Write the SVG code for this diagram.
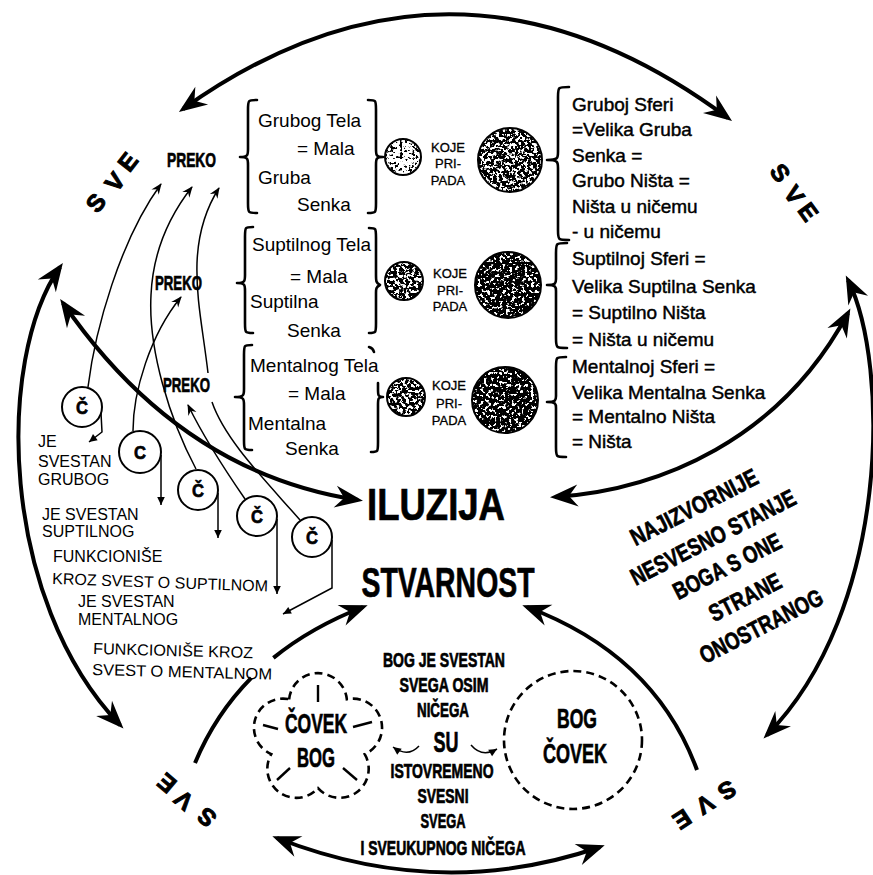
<svg xmlns="http://www.w3.org/2000/svg" width="873" height="875" viewBox="0 0 873 875">
<defs>
<style>
.thk{fill:none;stroke:#000;stroke-width:4}
.thn{fill:none;stroke:#000;stroke-width:1.5}
.ring{fill:#fff;stroke:#000;stroke-width:2}
.ringo{fill:none;stroke:#000;stroke-width:2}
.brace{fill:none;stroke:#000;stroke-width:2.6;stroke-linecap:round;stroke-linejoin:round}
.dash{fill:none;stroke:#000;stroke-width:2.6;stroke-dasharray:8 5}
.tick{stroke:#000;stroke-width:2.4}
text{font-family:"Liberation Sans",Arial,sans-serif;fill:#000}
.r{font-size:19px}
.rb{font-size:19px;stroke:#000;stroke-width:0.45}
.s{font-size:16px}
.k{font-size:13px;text-anchor:middle;stroke:#000;stroke-width:0.3}
.h{font-weight:bold;stroke:#000;stroke-width:0.7}
.m{text-anchor:middle}
.sve{font-size:24px;font-weight:bold;text-anchor:middle;stroke:#000;stroke-width:1}
</style>
<marker id="big" markerUnits="userSpaceOnUse" orient="auto-start-reverse" refX="-5" refY="0" markerWidth="40" markerHeight="40" overflow="visible"><path d="M0,0 L-28,-11 L-19,0 L-28,11 Z" fill="#000"/></marker>
<marker id="sm" markerUnits="userSpaceOnUse" orient="auto" refX="-1" refY="0" markerWidth="14" markerHeight="14" overflow="visible"><path d="M0,0 L-11,-4.5 L-7.5,0 L-11,4.5 Z" fill="#000"/></marker>
<marker id="dn" markerUnits="userSpaceOnUse" orient="auto" refX="0" refY="0" markerWidth="10" markerHeight="10" overflow="visible"><path d="M0,0 L-8,-3.8 L-8,3.8 Z" fill="#000"/></marker>
<filter id="sp1" x="0" y="0" width="1" height="1"><feTurbulence type="fractalNoise" baseFrequency="0.32" numOctaves="3" seed="3"/><feColorMatrix type="matrix" values="0 0 0 0 0 0 0 0 0 0 0 0 0 0 0 16 0 0 0 -8.8"/><feComposite in2="SourceAlpha" operator="in"/></filter>
<filter id="sp2" x="0" y="0" width="1" height="1"><feTurbulence type="fractalNoise" baseFrequency="0.32" numOctaves="3" seed="7"/><feColorMatrix type="matrix" values="0 0 0 0 0 0 0 0 0 0 0 0 0 0 0 16 0 0 0 -7.0"/><feComposite in2="SourceAlpha" operator="in"/></filter>
<filter id="sp3" x="0" y="0" width="1" height="1"><feTurbulence type="fractalNoise" baseFrequency="0.32" numOctaves="3" seed="11"/><feColorMatrix type="matrix" values="0 0 0 0 0 0 0 0 0 0 0 0 0 0 0 16 0 0 0 -6.0"/><feComposite in2="SourceAlpha" operator="in"/></filter>
</defs>
<rect width="873" height="875" fill="#fff"/>

<g id="connectors">
  <path class="thk" d="M183,109 Q455,-85 728,118" marker-start="url(#big)" marker-end="url(#big)"/>
  <path class="thk" d="M60,267 C-5,360 0,600 120,725" marker-start="url(#big)" marker-end="url(#big)"/>
  <path class="thk" d="M848,280 C890,365 890,610 767,735" marker-start="url(#big)" marker-end="url(#big)"/>
  <path class="thk" d="M63,303 Q180,473 358,500" marker-start="url(#big)" marker-end="url(#big)"/>
  <path class="thk" d="M555,497 C660,490 780,440 848,313" marker-start="url(#big)" marker-end="url(#big)"/>
  <path class="thk" d="M195,763 Q215.25,714.4 251.3,677.9"/>
  <path class="thk" d="M273.4,657.9 Q311.3,627.2 363,607" marker-end="url(#big)"/>
  <path class="thk" d="M697,770 Q655,655 527,607" marker-end="url(#big)"/>
  <path class="thk" d="M277,838 Q440,902 600,847" marker-start="url(#big)" marker-end="url(#big)"/>
  <path class="thn" d="M88,387 C95,330 120,240 161,184" marker-end="url(#sm)"/>
  <path class="thn" d="M133,431 C133,392 150,335 181,297" marker-end="url(#sm)"/>
  <path class="thn" d="M196,469 C170,420 148,350 151,295 C153,250 170,215 192,187" marker-end="url(#sm)"/>
  <path class="thn" d="M245,499 C225,470 205,440 188,405" marker-end="url(#sm)"/>
  <path class="thn" d="M300,520 C265,480 225,440 212,402"/>
  <path class="thn" d="M208,373 C203,330 196,300 197,263 C198,235 205,210 219,188" marker-end="url(#sm)"/>
  <path class="thn" d="M101,413 L102,432 L89,442" marker-end="url(#dn)"/>
  <path class="thn" d="M161,455 L161,505" marker-end="url(#dn)"/>
  <path class="thn" d="M218,493 L218,538" marker-end="url(#dn)"/>
  <path class="thn" d="M277,519 L277,594" marker-end="url(#dn)"/>
  <path class="thn" d="M332,540 L332,588 L283,614" marker-end="url(#dn)"/>
  <path class="thn" d="M419,746 Q408,758 393,747" marker-end="url(#dn)"/>
  <path class="thn" d="M471,745 Q482,758 497,749" marker-end="url(#dn)"/>
</g>

<g id="sve-labels">
  <text class="sve" transform="translate(96,203) rotate(-52)" y="8">S</text>
  <text class="sve" transform="translate(115,182) rotate(-52)" y="8">V</text>
  <text class="sve" transform="translate(128,162) rotate(-52)" y="8">E</text>
  <text class="sve" transform="translate(780,173) rotate(54)" y="8">S</text>
  <text class="sve" transform="translate(794,195) rotate(54)" y="8">V</text>
  <text class="sve" transform="translate(808,212) rotate(54)" y="8">E</text>
  <text class="sve" transform="translate(207,817) rotate(220)" y="8">S</text>
  <text class="sve" transform="translate(184,800) rotate(220)" y="8">V</text>
  <text class="sve" transform="translate(167,783) rotate(220)" y="8">E</text>
  <text class="sve" transform="translate(727,790) rotate(147)" y="8">S</text>
  <text class="sve" transform="translate(705,804) rotate(147)" y="8">V</text>
  <text class="sve" transform="translate(682,819) rotate(147)" y="8">E</text>
</g>

<g id="preko1"><text class="h m" x="191.5" y="167" font-size="21" textLength="49" lengthAdjust="spacingAndGlyphs">PREKO</text></g>
<g id="preko2"><text class="h m" x="178.5" y="290" font-size="21" textLength="47" lengthAdjust="spacingAndGlyphs">PREKO</text></g>
<g id="preko3"><text class="h m" x="186.5" y="392" font-size="21" textLength="47" lengthAdjust="spacingAndGlyphs">PREKO</text></g>

<g id="telo-grubo">
  <path class="brace" d="M257,100 C248,100 248,100 248,110 L248,149 C248,155 248,157 240,157 C248,157 248,159 248,165 L248,203 C248,213 248,213 257,213"/>
  <path class="brace" d="M368,100 C376,100 376,100 376,110 L376,149 C376,155 376,157 383,157 C376,157 376,159 376,165 L376,203 C376,213 376,213 368,213"/>
  <text class="r" x="258" y="127">Grubog Tela</text>
  <text class="r" x="297" y="155">= Mala</text>
  <text class="r" x="258" y="184">Gruba</text>
  <text class="r" x="297" y="211">Senka</text>
</g>
<g id="telo-suptilno">
  <path class="brace" d="M253,227 C245,227 245,227 245,237 L245,275 C245,281 245,283 237,283 C245,283 245,285 245,291 L245,323 C245,333 245,333 253,333"/>
  <path class="brace" d="M369,228 C376,228 376,228 376,238 L376,275 C376,281 376,283 380,285 C376,287 376,289 376,293 L376,323 C376,333 376,333 369,333"/>
  <text class="r" x="252" y="251">Suptilnog Tela</text>
  <text class="r" x="290" y="283">= Mala</text>
  <text class="r" x="250" y="308">Suptilna</text>
  <text class="r" x="287" y="337">Senka</text>
</g>
<g id="telo-mentalno">
  <path class="brace" d="M252,345 C244,345 244,345 244,355 L244,389 C244,395 244,397 235,397 C244,397 244,399 244,405 L244,440 C244,450 244,450 252,450"/>
  <path class="brace" d="M369,347 Q373,348 374,352"/>
  <path class="brace" d="M378,383 L378,389 C378,395 378,397 383,397 C378,397 378,399 378,405 L378,442 C378,452 378,452 371,452"/>
  <text class="r" x="250" y="372">Mentalnog Tela</text>
  <text class="r" x="288" y="400">= Mala</text>
  <text class="r" x="248" y="430">Mentalna</text>
  <text class="r" x="285" y="455">Senka</text>
</g>

<g id="senka-mala-1"><circle cx="403" cy="157" r="18" fill="#000" filter="url(#sp1)"/><circle class="ringo" cx="403" cy="157" r="18"/></g>
<g id="senka-mala-2"><circle cx="404" cy="281" r="19" fill="#000" filter="url(#sp2)"/><circle class="ringo" cx="404" cy="281" r="19"/></g>
<g id="senka-mala-3"><circle cx="406" cy="397" r="19" fill="#000" filter="url(#sp2)"/><circle class="ringo" cx="406" cy="397" r="19"/></g>

<g id="koje-1"><text class="k" x="448" y="152">KOJE</text><text class="k" x="448" y="168">PRI-</text><text class="k" x="448" y="185">PADA</text></g>
<g id="koje-2"><text class="k" x="450" y="278">KOJE</text><text class="k" x="450" y="295">PRI-</text><text class="k" x="450" y="311">PADA</text></g>
<g id="koje-3"><text class="k" x="449" y="390">KOJE</text><text class="k" x="449" y="408">PRI-</text><text class="k" x="449" y="425">PADA</text></g>

<g id="senka-velika-1"><circle cx="510" cy="160" r="32" fill="#000" filter="url(#sp2)"/><circle class="ringo" cx="510" cy="160" r="32"/></g>
<g id="senka-velika-2"><circle cx="508" cy="285" r="33" fill="#000" filter="url(#sp3)"/><circle class="ringo" cx="508" cy="285" r="33"/></g>
<g id="senka-velika-3"><circle cx="505" cy="400" r="33" fill="#000" filter="url(#sp3)"/><circle class="ringo" cx="505" cy="400" r="33"/></g>

<g id="sfera-gruba">
  <path class="brace" d="M569,87 C558,87 558,87 558,97 L558,152 C558,158 558,160 547,160 C558,160 558,162 558,168 L558,230 C558,240 558,240 569,240"/>
  <text class="rb" x="572" y="111">Gruboj Sferi</text>
  <text class="rb" x="572" y="136">=Velika Gruba</text>
  <text class="rb" x="572" y="162">Senka =</text>
  <text class="rb" x="572" y="187">Grubo Ništa =</text>
  <text class="rb" x="572" y="213">Ništa u ničemu</text>
  <text class="rb" x="572" y="238">- u ničemu</text>
</g>
<g id="sfera-suptilna">
  <path class="brace" d="M567,243 C556,243 556,243 556,253 L556,279 C556,283 556,285 547,285 C556,285 556,287 556,291 L556,338 C556,348 556,348 567,348"/>
  <text class="rb" x="572" y="265">Suptilnoj Sferi =</text>
  <text class="rb" x="572" y="293">Velika Suptilna Senka</text>
  <text class="rb" x="572" y="319">= Suptilno Ništa</text>
  <text class="rb" x="572" y="346">= Ništa u ničemu</text>
</g>
<g id="sfera-mentalna">
  <path class="brace" d="M566,357 C556,357 556,357 556,367 L556,396 C556,400 556,402 547,402 C556,402 556,404 556,408 L556,447 C556,457 556,457 566,457"/>
  <text class="rb" x="572" y="373">Mentalnoj Sferi =</text>
  <text class="rb" x="572" y="399">Velika Mentalna Senka</text>
  <text class="rb" x="572" y="423">= Mentalno Ništa</text>
  <text class="rb" x="572" y="448">= Ništa</text>
</g>

<g id="c1"><circle class="ring" cx="82" cy="407" r="20"/><text class="h m" x="82" y="414" font-size="19" textLength="12" lengthAdjust="spacingAndGlyphs">Č</text></g>
<g id="c2"><circle class="ring" cx="140" cy="452" r="21"/><text class="h m" x="140" y="459" font-size="19" textLength="12" lengthAdjust="spacingAndGlyphs">C</text></g>
<g id="c3"><circle class="ring" cx="198" cy="490" r="20"/><text class="h m" x="198" y="497" font-size="19" textLength="12" lengthAdjust="spacingAndGlyphs">Č</text></g>
<g id="c4"><circle class="ring" cx="257" cy="516" r="20"/><text class="h m" x="257" y="523" font-size="19" textLength="12" lengthAdjust="spacingAndGlyphs">Č</text></g>
<g id="c5"><circle class="ring" cx="312" cy="537" r="20"/><text class="h m" x="312" y="544" font-size="19" textLength="12" lengthAdjust="spacingAndGlyphs">Č</text></g>

<g id="svestan-grubog"><text class="s" x="38" y="447">JE</text><text class="s" x="38" y="467">SVESTAN</text><text class="s" x="38" y="485">GRUBOG</text></g>
<g id="svestan-suptilnog"><text class="s" x="42" y="520">JE SVESTAN</text><text class="s" x="42" y="537">SUPTILNOG</text></g>
<g id="funkcionise-suptilnom"><text class="s" x="53" y="562">FUNKCIONIŠE</text><text class="s" x="52" y="584" transform="rotate(2 52 584)" textLength="216" lengthAdjust="spacingAndGlyphs">KROZ SVEST O SUPTILNOM</text></g>
<g id="svestan-mentalnog"><text class="s" x="78" y="607">JE SVESTAN</text><text class="s" x="78" y="625">MENTALNOG</text></g>
<g id="funkcionise-mentalnom"><text class="s" x="93" y="654" transform="rotate(1.5 93 654)" textLength="160" lengthAdjust="spacingAndGlyphs">FUNKCIONIŠE KROZ</text><text class="s" x="92" y="675" transform="rotate(1.5 92 675)" textLength="180" lengthAdjust="spacingAndGlyphs">SVEST O MENTALNOM</text></g>

<g id="iluzija"><text class="h m" x="436" y="520" font-size="44" textLength="138" lengthAdjust="spacingAndGlyphs">ILUZIJA</text></g>
<g id="stvarnost"><text class="h m" x="448" y="597" font-size="42" textLength="173" lengthAdjust="spacingAndGlyphs">STVARNOST</text></g>

<g id="najizvornije">
  <text class="h m" transform="translate(694,507) rotate(-27)" y="8.5" font-size="24" textLength="140" lengthAdjust="spacingAndGlyphs">NAJIZVORNIJE</text>
  <text class="h m" transform="translate(713,537) rotate(-27)" y="8.5" font-size="24" textLength="182" lengthAdjust="spacingAndGlyphs">NESVESNO STANJE</text>
  <text class="h m" transform="translate(727,566) rotate(-27)" y="8.5" font-size="24" textLength="118" lengthAdjust="spacingAndGlyphs">BOGA S ONE</text>
  <text class="h m" transform="translate(745,597) rotate(-27)" y="8.5" font-size="24" textLength="78" lengthAdjust="spacingAndGlyphs">STRANE</text>
  <text class="h m" transform="translate(761,626) rotate(-27)" y="8.5" font-size="24" textLength="135" lengthAdjust="spacingAndGlyphs">ONOSTRANOG</text>
</g>

<g id="covek-bog">
  <path class="dash" d="M289.14,699.28 A29,29 0 0 1 346.86,699.28 A29,29 0 0 1 364.70,754.17 A29,29 0 0 1 318,788.1 A29,29 0 0 1 271.30,754.17 A29,29 0 0 1 289.14,699.28 Z"/>
  <line class="tick" x1="318" y1="685" x2="318" y2="702"/>
  <line class="tick" x1="263" y1="725" x2="278" y2="729"/>
  <line class="tick" x1="353" y1="727" x2="372" y2="722"/>
  <line class="tick" x1="277" y1="780" x2="290" y2="768"/>
  <line class="tick" x1="343" y1="768" x2="357" y2="780"/>
  <text class="h m" x="316" y="733" font-size="28" textLength="62" lengthAdjust="spacingAndGlyphs">ČOVEK</text>
  <text class="h m" x="316" y="767" font-size="28" textLength="38" lengthAdjust="spacingAndGlyphs">BOG</text>
</g>
<g id="bog-covek">
  <circle class="dash" cx="573" cy="740" r="69"/>
  <text class="h m" x="577" y="728" font-size="28" textLength="40" lengthAdjust="spacingAndGlyphs">BOG</text>
  <text class="h m" x="575" y="763" font-size="28" textLength="64" lengthAdjust="spacingAndGlyphs">ČOVEK</text>
</g>

<g id="bog-je-svestan">
  <text class="h m" x="444" y="667" font-size="20" textLength="122" lengthAdjust="spacingAndGlyphs">BOG JE SVESTAN</text>
  <text class="h m" x="444" y="692" font-size="20" textLength="89" lengthAdjust="spacingAndGlyphs">SVEGA OSIM</text>
  <text class="h m" x="443" y="717" font-size="20" textLength="52" lengthAdjust="spacingAndGlyphs">NIČEGA</text>
</g>
<g id="su"><text class="h m" x="446" y="752" font-size="30" textLength="25" lengthAdjust="spacingAndGlyphs">SU</text></g>
<g id="istovremeno">
  <text class="h m" x="442" y="778" font-size="20" textLength="103" lengthAdjust="spacingAndGlyphs">ISTOVREMENO</text>
  <text class="h m" x="443" y="803" font-size="20" textLength="51" lengthAdjust="spacingAndGlyphs">SVESNI</text>
  <text class="h m" x="443" y="828" font-size="20" textLength="45" lengthAdjust="spacingAndGlyphs">SVEGA</text>
  <text class="h m" x="443" y="855" font-size="20" textLength="165" lengthAdjust="spacingAndGlyphs">I SVEUKUPNOG NIČEGA</text>
</g>
</svg>
